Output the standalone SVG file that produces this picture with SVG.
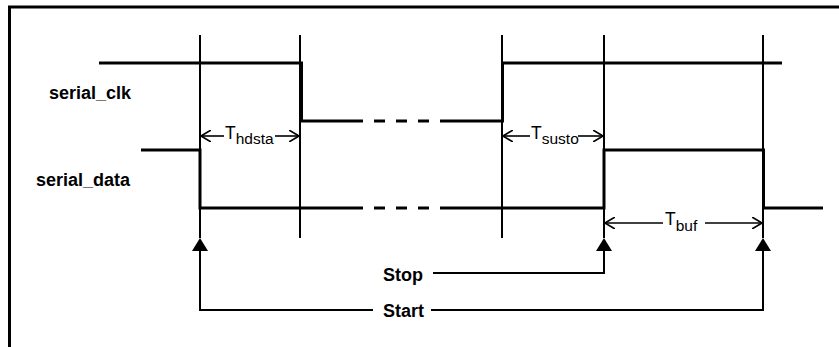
<svg xmlns="http://www.w3.org/2000/svg" width="839" height="347" viewBox="0 0 839 347">
<defs>
<style>
.sig{fill:none;stroke:#000;stroke-width:3;stroke-linejoin:miter;stroke-linecap:butt}
.dash{fill:none;stroke:#000;stroke-width:3;stroke-dasharray:11 11}
.guide{fill:none;stroke:#000;stroke-width:2}
.thin{fill:none;stroke:#000;stroke-width:2}
.dim{fill:none;stroke:#000;stroke-width:1.6}
.lbl{font-family:"Liberation Sans",Arial,sans-serif;font-weight:bold;font-size:18px;fill:#000}
.t{font-family:"Liberation Sans",Arial,sans-serif;font-size:17.5px;fill:#000}
.sub{font-size:15.5px}
</style>
<marker id="open" viewBox="0 0 10 12" refX="10" refY="6" markerWidth="10" markerHeight="12" markerUnits="userSpaceOnUse" orient="auto">
<path d="M0,0 L10,6 L0,12" fill="none" stroke="#000" stroke-width="1.6"/>
</marker>
</defs>
<rect width="839" height="347" fill="#fff"/>
<path d="M9.5,347 V7 H839" fill="none" stroke="#000" stroke-width="3"/>

<g id="guides">
<line class="guide" x1="200" y1="35" x2="200" y2="238"/>
<line class="guide" x1="300" y1="35" x2="300" y2="238"/>
<line class="guide" x1="502" y1="35" x2="502" y2="238"/>
<line class="guide" x1="604" y1="35" x2="604" y2="238"/>
<line class="guide" x1="763" y1="35" x2="763" y2="238"/>
</g>

<g id="serial_clk">
<text class="lbl" x="49" y="99">serial_clk</text>
<path class="sig" d="M99,63 H301.5 V121 H363"/>
<path class="dash" d="M374,121 H440"/>
<path class="sig" d="M440,121 H502.5 V63 H782"/>
</g>

<g id="serial_data">
<text class="lbl" x="36" y="186">serial_data</text>
<path class="sig" d="M141,150 H200 V208 H363"/>
<path class="dash" d="M374,208 H440"/>
<path class="sig" d="M440,208 H604 V150 H763.5 V208 H823"/>
</g>

<g id="connectors">
<line class="dim" x1="224" y1="136" x2="201" y2="136" marker-end="url(#open)"/>
<line class="dim" x1="275" y1="136" x2="299" y2="136" marker-end="url(#open)"/>
<line class="dim" x1="530" y1="136" x2="503" y2="136" marker-end="url(#open)"/>
<line class="dim" x1="578" y1="136" x2="603" y2="136" marker-end="url(#open)"/>
<line class="dim" x1="663" y1="223" x2="605" y2="223" marker-end="url(#open)"/>
<line class="dim" x1="705" y1="223" x2="762" y2="223" marker-end="url(#open)"/>
<path class="thin" d="M433,273 H604 V250"/>
<path class="thin" d="M373,310 H200 V250"/>
<path class="thin" d="M431,310 H763 V250"/>
<polygon points="200,238 192,251 208,251" fill="#000"/>
<polygon points="604,238 596,251 612,251" fill="#000"/>
<polygon points="763,238 755,251 771,251" fill="#000"/>
</g>

<g id="labels">
<text class="t" x="225" y="138.5">T<tspan class="sub" dy="5">hdsta</tspan></text>
<text class="t" x="531" y="138.5">T<tspan class="sub" dy="5">susto</tspan></text>
<text class="t" x="665" y="225">T<tspan class="sub" dy="6">buf</tspan></text>
<text class="lbl" x="383" y="281">Stop</text>
<text class="lbl" x="383" y="317">Start</text>
</g>
</svg>
